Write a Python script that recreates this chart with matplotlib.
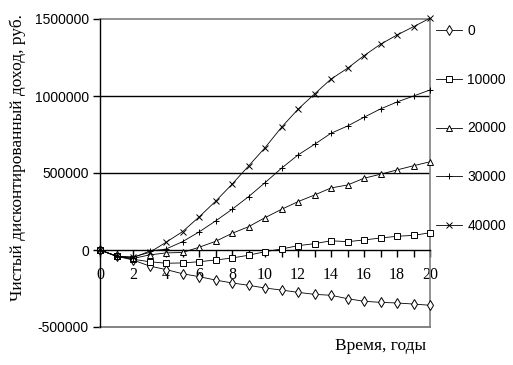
import numpy as np
import matplotlib
matplotlib.use("Agg")
import matplotlib.pyplot as plt

years = list(range(0, 21))

npv_0 = [0, -40000, -65000, -104000, -127000, -154000, -173000, -195000, -214000, -229000,
         -247000, -260000, -275000, -288000, -294000, -316000, -333000, -340000, -344000,
         -351000, -359000]
npv_10000 = [0, -40000, -60000, -76000, -86000, -84000, -76000, -65000, -52000, -34000,
             -11000, 6500, 28000, 41000, 60000, 54000, 65000, 78000, 89000, 95000, 112000]
npv_20000 = [0, -40000, -55000, -32000, -19000, -16000, 17500, 56000, 108000, 151000,
             210000, 264000, 314000, 357000, 403000, 422000, 466000, 492000, 520000, 547000,
             573000]
npv_30000 = [0, -40000, -50000, -8000, 6500, 54000, 117000, 188000, 264000, 346000,
             437000, 531000, 617000, 686000, 758000, 805000, 862000, 916000, 961000,
             1000000, 1039000]
npv_40000 = [0, -40000, -45000, -16000, 50000, 119000, 214000, 316000, 427000, 545000,
             664000, 797000, 914000, 1013000, 1110000, 1180000, 1262000, 1336000, 1396000,
             1450000, 1505000]

series_labels = ["0", "10000", "20000", "30000", "40000"]
series = [npv_0, npv_10000, npv_20000, npv_30000, npv_40000]
markers = ["d", "s", "^", "+", "x"]
msizes = [4.8, 4.3, 5, 5, 4.5]

y_ticks = [-500000, 0, 500000, 1000000, 1500000]

fig = plt.figure(figsize=(5.13, 3.65), dpi=100)
ax = fig.add_axes([100/513, 1-327/365, 330/513, 308/365])

for vals, lab, mk, ms in zip(series, series_labels, markers, msizes):
    ax.plot(years, vals, color="black", lw=0.6, marker=mk, ms=ms,
            mfc="white", mec="black", mew=0.7, label=lab, clip_on=False, zorder=3)

# gridlines + grey frame bottom
for v in [500000, 1000000]:
    ax.axhline(v, color="black", lw=1.0, zorder=0)
ax.axhline(-500000, color="#7a7a7a", lw=1.3, zorder=5, clip_on=False)

ax.set_xlim(0, 20)
ax.set_ylim(-500000, 1500000)

ax.spines["bottom"].set_position(("data", 0))
ax.spines["bottom"].set_linewidth(1.0)
ax.spines["left"].set_linewidth(1.0)
ax.spines["left"].set_zorder(6)
ax.spines["top"].set_color("#808080")
ax.spines["right"].set_color("#808080")
ax.spines["top"].set_linewidth(1.2)
ax.spines["right"].set_linewidth(1.2)

ax.set_xticks(range(0, 21, 2))
ax.set_xticks(range(0, 21), minor=True)
ax.tick_params(axis="x", which="both", direction="out", length=5, width=1.0, pad=7)
ax.set_xticklabels([str(t) for t in range(0, 21, 2)], fontfamily="Liberation Serif", fontsize=11.5)

ax.set_yticks(y_ticks)
ax.set_yticklabels([str(v) for v in y_ticks], fontfamily="Liberation Sans", fontsize=10)
ax.tick_params(axis="y", direction="out", length=5, width=1.0, pad=3)

fig.text(18/513, 1-158/365, "Чистый дисконтированный доход, руб.", rotation=90,
         ha="center", va="center", fontfamily="Liberation Serif", fontsize=12.5)
fig.text(381/513, 1-346/365, "Время, годы", ha="center", va="center",
         fontfamily="Liberation Serif", fontsize=12.5)

fig.legend(loc="upper left", bbox_to_anchor=(436/513, 1-24/365), frameon=False,
           prop={"family": "Liberation Sans", "size": 10}, handlelength=1.9,
           handletextpad=0.35, labelspacing=2.5, borderpad=0, borderaxespad=0)

fig.savefig("out.png", dpi=100)
